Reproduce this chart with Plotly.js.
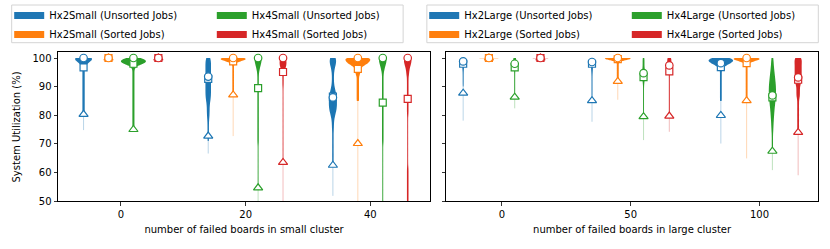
<!DOCTYPE html>
<html><head><meta charset="utf-8">
<script src="https://cdn.plot.ly/plotly-3.0.1.min.js"></script>
<style>html,body{margin:0;padding:0;background:#fff}</style>
</head><body><div id="chart" style="width:830px;height:249px"></div>
<script>
// ---------- DATA ----------
const smallBoards = [0, 20, 40];
const largeBoards = [0, 50, 100];
const yTicks = [50, 60, 70, 80, 90, 100];
const smallNames = ['Hx2Small (Unsorted Jobs)', 'Hx2Small (Sorted Jobs)', 'Hx4Small (Unsorted Jobs)', 'Hx4Small (Sorted Jobs)'];
const largeNames = ['Hx2Large (Unsorted Jobs)', 'Hx2Large (Sorted Jobs)', 'Hx4Large (Unsorted Jobs)', 'Hx4Large (Sorted Jobs)'];
const yTitle = 'System Utilization (%)';

// per series (Hx2 unsorted, Hx2 sorted, Hx4 unsorted, Hx4 sorted), per board count
const smallMedian = [[100, 93.5, 86.2], [100, 100, 100], [100, 100, 100], [100, 100, 100]];
const smallMean   = [[96.7, 92.7, 86.5], [100, 98.8, 96.2], [98.0, 89.5, 84.4], [100, 95.1, 85.7]];
const smallLow    = [[80.3, 72.7, 62.5], [100, 87.1, 70.1], [75.0, 54.6, 42], [100, 63.5, 42]];
const smallMin    = [[74.8, 66.6, 51.8], [100, 72.7, 48], [74.5, 45, 30], [100, 45, 30]];
const smallMax    = [[100, 100, 100], [100, 100, 100], [100, 100, 100], [100, 100, 100]];

const largeMedian = [[98.8, 98.6, 98.2], [100, 100, 100], [98.0, 94.7, 86.9], [100, 97.4, 93.2]];
const largeMean   = [[98.0, 98.0, 96.8], [100, 99.6, 98.2], [96.7, 93.3, 86.2], [100, 95.3, 92.4]];
const largeLow    = [[87.7, 85.1, 79.9], [100, 91.8, 85.1], [86.3, 79.5, 67.4], [100, 79.7, 74.0]];
const largeMin    = [[78.1, 77.7, 70.1], [99.9, 85.4, 64.9], [82.4, 71.3, 60.8], [99.9, 74.2, 59.0]];
const largeMax    = [[100, 100, 100], [100, 100, 100], [100, 100, 100], [100, 100, 100]];

// utilization samples shaping each violin
const smallSamplesHx2U = [
  [100,100,100,100,100,100,100,100,100,100,100,100,99.5,99.5,99.5,99,99,99,98.5,98.5,98,98,97,96,95,94,93,92,91,90,89,88,87,86,85,84,83,82,81,80],
  [100,100,99.5,99,98.5,98,97.5,97,96.5,96,95.5,95,94.5,94,93.5,93,92.5,92,91.5,91,90.5,90,89.5,89,88.5,88,87.5,87,86.5,86,85.5,85,84,83,82,81,80,79,77,75,73,71],
  [100,100,99.5,99,98.5,98,97,96,94,92,90,89,88,87.5,87,86.5,86,85.5,85,84.5,84,83.5,83,82.5,82,81.5,81,80,79,77,75,72,69,66,63]
];
const smallSamplesHx2S = [
  [],
  [100,100,100,100,100,100,100,100,100,100,99.8,99.8,99.8,99.8,99.5,99.5,99.5,99.5,99.5,99.5,99.2,99.2,99.2,99.2,99,99,99,98.5,98.5,98,97,96,95,94,93,92,91,90,89,88,87],
  [100,100,100,100,100,100,100,100,99.5,99.5,99.5,99.5,99.5,99,99,99,99,99,98.5,98.5,98.5,98.5,98.5,98,98,98,98,97.5,97.5,97.5,97,97,96.5,96,95.5,95,94.5,94,93,92,91,90,89,88,87,86,85]
];
const smallSamplesHx4U = [
  [100,100,100,100,99.5,99.5,99.5,99.5,99.5,99.5,99,99,99,99,99,99,99,99,98.5,98.5,98.5,98.5,98.5,98.5,98.5,98.5,98,98,98,98,98,97.5,97.5,97,96,95,94,93,92,91,90,89,88,87,86,85,84,83,82,81,80,79,78,77,76,75],
  [100,100,100,100,100,99.5,99.5,99.5,99,99,99,98.5,98.5,98,98,97.5,97.5,97,97,96.5,96,95.5,95,94,93,92,91,90,89,88,87,86,85,84,83,82,81,80,79,78,77,76,75,74,73,72,71,70,68,66,64,62,60,58,56,54],
  [100,100,100,100,100,99.5,99.5,99.5,99,99,99,98.5,98.5,98,98,97.5,97.5,97,97,96.5,96,95.5,95,94,93,92,91,90,89,88,87,86,85,84,83,82,81,80,79,78,77,76,75,74,73,72,71,70,68,66,64,62,60,58,56,54,52,50,48]
];
const smallSamplesHx4S = [
  [],
  [100,100,100,100,99.5,99.5,99.5,99,99,99,98.5,98.5,98.5,98,98,98,97.5,97.5,97.5,97,97,97,96.5,96.5,96,96,95.5,95,94,93,92,91,90,88,86,84,82,80,78,76,74,72,70,68,66,64],
  [100,100,100,100,99.5,99.5,99.5,99,99,99,98.5,98.5,98,98,97.5,97.5,97,97,96.5,96,95.5,95,94.5,94,93,92,91,90,89,88,87,86,85,84,83,82,81,80,78,76,74,72,70,68,66,64,62,61,60,59,58,57,56,55,54,53,52,51,50,49]
];
const largeSamplesHx2U = [
  [100,100,100,99.5,99.5,99,99,98.5,98.5,98,98,97.5,97,96.5,96,95,94,93,92,91,90],
  [100,100,100,99.5,99.5,99,99,98.5,98.5,98,98,97.5,97,96.5,96,95.5,95,94,93,92,91,90,89,88,87,86],
  [100,100,100,100,100,100,99.6,99.6,99.6,99.6,99.6,99.6,99.2,99.2,99.2,99.2,99.2,99.2,98.8,98.8,98.8,98.8,98.8,98.8,98.4,98.4,98.4,98.4,98.4,98,98,98,98,97.6,97.6,97.6,97.2,97.2,96.8,96.4,96,95,94,93,92,91,90,89,88,87,86,85]
];
const largeSamplesHx2S = [
  [100,100,100,100,100,100,99.9],
  [100,100,100,100,100,100,100,100,100,100,99.8,99.8,99.8,99.6,99.6,99.6,99.4,99.4,99.2,99.2,99,98.8,98,97.2,96.4,95.6,94.8,94,93.2,92.4],
  [100,100,100,100,100,100,100,100,100,100,99.7,99.7,99.7,99.7,99.7,99.4,99.4,99.4,99.4,99.4,99.1,99.1,99.1,98.8,98.8,98.5,98,97,96,95,94,93,92,91,90,89,88,87,86,85]
];
const largeSamplesHx4U = [
  [100,100,100,99.5,99.5,99,99,98.5,98.5,98,98,97.5,97,96.5,96,95,94,93,92,91,90,89,88,87],
  [100,100,99.5,99,98.5,98,97.5,97,96.5,96,95.5,95.5,95,95,94.5,94.5,94,94,93.5,93.5,93,93,92.5,92,91.5,91,90,89,88,87,86,85,84,83,82,81,80],
  [100,98.5,97,96,95,94.2,93.5,92.8,92.2,91.6,91,90.5,90,89.5,89,88.5,88,87.5,87,86.5,86,85.4,84.8,84.2,83.5,82.8,82,81,80,79,77.5,76,74,71,68]
];
const largeSamplesHx4S = [
  [100,100,100,100,100,99.9],
  [100,100,100,100,99.5,99.5,99.5,99,99,99,98.5,98.5,98,98,97.5,97.5,97,96.5,96,95.5,95,94,93,92,91,90,89,88,87,86,85,84,83,82,81,80],
  [100,100,99.5,99,98.5,98,97.5,97,96.5,96,95.5,95,94.5,94,93.5,93,92.5,92,91.5,91,90,89,88,87,86,84,82,80,78,76,74]
];

// ---------- STYLE ----------
const colors = ['#1f77b4', '#ff7f0e', '#2ca02c', '#d62728'];
const offsetsSmall = [-6, -2, 2, 6];
const offsetsLarge = [-15, -5, 5, 15];
const vWidthSmall = [[2.7, 0.9, 1.3], [4, 4, 4], [4, 1.1, 1.2], [4, 1.1, 1.2]];
const vWidthLarge = [[1.2, 1.2, 9.5], [10, 10, 10], [1.2, 1.3, 2.8], [8, 1.6, 2.8]];
const bwSmall = [[1.0, 1.5, 1.5], [0.6, 0.6, 0.6], [0.8, 1.0, 1.0], [1.0, 1.0, 1.0]];
const bwLarge = [[1, 1, 0.6], [0.05, 0.4, 0.6], [1, 1, 1.5], [0.05, 1, 1]];

const traces = [];
function addPanel(boards, offsets, names, samples, med, mean, low, mn, mx, vw, bw, xa, ya, legs) {
  for (let k = 0; k < 4; k++) {
    for (let g = 0; g < boards.length; g++) {
      const s = samples[k][g];
      if (s.length < 2) continue;
      traces.push({
        type: 'violin', x0: boards[g] + offsets[k], y: s, xaxis: xa, yaxis: ya,
        width: vw[k][g], bandwidth: bw[k][g], spanmode: 'hard', scalemode: 'width', side: 'both',
        points: false, box: {visible: false}, meanline: {visible: false},
        fillcolor: colors[k], line: {color: colors[k], width: 0},
        showlegend: false, hoverinfo: 'skip', name: names[k]
      });
    }
  }
  for (let k = 0; k < 4; k++) {
    const xs = [], ys = [], px = [];
    for (let g = 0; g < boards.length; g++) {
      const p = boards[g] + offsets[k];
      px.push(p);
      xs.push(p, p, null); ys.push(mn[k][g], mx[k][g], null);
    }
    traces.push({type: 'scatter', mode: 'lines', x: xs, y: ys, xaxis: xa, yaxis: ya,
      line: {color: colors[k], width: 1}, opacity: 0.3, showlegend: false, hoverinfo: 'skip'});
    traces.push({type: 'scatter', mode: 'markers', x: px, y: low[k], xaxis: xa, yaxis: ya,
      marker: {symbol: 'triangle-up', size: 8, color: 'white', line: {color: colors[k], width: 1.2}},
      showlegend: false, hoverinfo: 'skip'});
    traces.push({type: 'scatter', mode: 'markers', x: px, y: mean[k], xaxis: xa, yaxis: ya,
      marker: {symbol: 'square', size: 7, color: 'white', line: {color: colors[k], width: 1.2}},
      showlegend: false, hoverinfo: 'skip'});
    traces.push({type: 'scatter', mode: 'markers', x: px, y: med[k], xaxis: xa, yaxis: ya,
      marker: {symbol: 'circle', size: 7.5, color: 'white', line: {color: colors[k], width: 1.2}},
      showlegend: false, hoverinfo: 'skip'});
  }
  // legend entries (order: Hx2 unsorted, Hx2 sorted | Hx4 unsorted, Hx4 sorted)
  for (let k = 0; k < 4; k++) {
    traces.push({type: 'scatter', mode: 'lines', x: [null], y: [null], xaxis: xa, yaxis: ya,
      name: names[k], line: {color: colors[k], width: 7}, legend: legs[k < 2 ? 0 : 1], hoverinfo: 'skip'});
  }
}
addPanel(smallBoards, offsetsSmall, smallNames,
  [smallSamplesHx2U, smallSamplesHx2S, smallSamplesHx4U, smallSamplesHx4S],
  smallMedian, smallMean, smallLow, smallMin, smallMax, vWidthSmall, bwSmall, 'x', 'y', ['legend', 'legend2']);
addPanel(largeBoards, offsetsLarge, largeNames,
  [largeSamplesHx2U, largeSamplesHx2S, largeSamplesHx4U, largeSamplesHx4S],
  largeMedian, largeMean, largeLow, largeMin, largeMax, vWidthLarge, bwLarge, 'x2', 'y2', ['legend3', 'legend4']);

const W = 830, H = 249, ML = 58, MR = 12.3, MT = 52, MB = 48;
const PW = W - ML - MR, PH = H - MT - MB;
const px2paperX = v => (v - ML) / PW;
const px2paperY = v => (H - MB - v) / PH;

const axCommon = {type: 'linear', showgrid: false, zeroline: false, ticks: 'outside', ticklen: 3.5, tickwidth: 0.8,
  tickcolor: '#000', linecolor: '#000', linewidth: 1, mirror: true, tickfont: {size: 10, color: '#000'}, automargin: false};
function legendAt(xpx) {
  return {xref: 'container', yref: 'container', x: xpx / W, y: 1 - 1 / H, xanchor: 'left', yanchor: 'top',
    bgcolor: 'rgba(0,0,0,0)', borderwidth: 0, font: {size: 10, color: '#000'}, tracegroupgap: 0, orientation: 'v'};
}
const layout = {
  width: W, height: H, margin: {l: ML, r: MR, t: MT, b: MB, autoexpand: false},
  paper_bgcolor: 'white', plot_bgcolor: 'white',
  font: {family: 'DejaVu Sans', size: 10, color: '#000'},
  violinmode: 'overlay', showlegend: true,
  xaxis: Object.assign({}, axCommon, {domain: [0, px2paperX(430)], range: [-10.1, 49.6], tickvals: smallBoards, anchor: 'y',
    title: {text: 'number of failed boards in small cluster', font: {size: 10}, standoff: 7}}),
  xaxis2: Object.assign({}, axCommon, {domain: [px2paperX(446), 1], range: [-21.6, 122.7], tickvals: largeBoards, anchor: 'y2',
    title: {text: 'number of failed boards in large cluster', font: {size: 10}, standoff: 7}}),
  yaxis: Object.assign({}, axCommon, {range: [50, 102.1], tickvals: yTicks, anchor: 'x'}),
  yaxis2: Object.assign({}, axCommon, {range: [50, 102.1], tickvals: yTicks, anchor: 'x2', showticklabels: false}),
  legend: legendAt(9.2), legend2: legendAt(211.8), legend3: legendAt(424.2), legend4: legendAt(626.8),
  annotations: [
    {text: yTitle, textangle: -90, xref: 'paper', yref: 'paper', x: px2paperX(17), y: 0.5,
      xanchor: 'center', yanchor: 'middle', showarrow: false, font: {size: 10, color: '#000'}}
  ],
  shapes: [
    {type: 'rect', xref: 'paper', yref: 'paper', x0: px2paperX(11.7), x1: px2paperX(403), y0: px2paperY(42.7), y1: px2paperY(5),
      line: {color: '#d4d4d4', width: 1}, fillcolor: 'white', layer: 'below'},
    {type: 'rect', xref: 'paper', yref: 'paper', x0: px2paperX(426.7), x1: px2paperX(818), y0: px2paperY(42.7), y1: px2paperY(5),
      line: {color: '#d4d4d4', width: 1}, fillcolor: 'white', layer: 'below'}
  ]
};
Plotly.newPlot('chart', traces, layout, {staticPlot: true, displayModeBar: false});
</script></body></html>
